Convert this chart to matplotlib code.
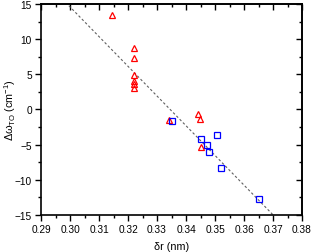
import matplotlib
matplotlib.use("Agg")
import matplotlib.pyplot as plt
import numpy as np
from matplotlib.ticker import MultipleLocator

plt.rcParams['font.family'] = ['Liberation Sans', 'DejaVu Sans']
plt.rcParams['mathtext.fontset'] = 'custom'
plt.rcParams['mathtext.rm'] = 'Liberation Sans'
plt.rcParams['mathtext.it'] = 'Liberation Sans'

# red triangles
tri_x = [0.3145, 0.3222, 0.3222, 0.3222, 0.3222, 0.3222, 0.3222, 0.3342, 0.3440, 0.3449, 0.3451]
tri_y = [13.4, 8.7, 7.35, 4.9, 4.1, 3.6, 3.1, -1.57, -0.62, -1.43, -5.38]
# blue squares
sq_x = [0.3352, 0.3451, 0.3474, 0.3480, 0.3508, 0.3522, 0.3651]
sq_y = [-1.6, -4.14, -5.0, -6.05, -3.57, -8.33, -12.8]
# dashed fit line y = a + b*x
fit_a = 141.5
fit_b = -423.0
fit_x = [0.29, 0.38]
x_ticks = [0.29, 0.30, 0.31, 0.32, 0.33, 0.34, 0.35, 0.36, 0.37, 0.38]
x_ticklabels = ['0.29', '0.30', '0.31', '0.32', '0.33', '0.34', '0.35', '0.36', '0.37', '0.38']

fig = plt.figure(figsize=(3.13, 2.53), dpi=100)
ax = fig.add_axes([0.131, 0.147, 0.834, 0.833])

fx = np.array(fit_x)
ax.plot(fx, fit_a + fit_b * fx, linestyle=(0, (2.2, 2.0)), color='#606060', lw=0.8, zorder=1)
ax.plot(tri_x, tri_y, linestyle='none', marker='^', markersize=4.6, markerfacecolor='none',
        markeredgecolor='#ff0000', markeredgewidth=0.9, zorder=3)
ax.plot(sq_x, sq_y, linestyle='none', marker='s', markersize=3.9, markerfacecolor='none',
        markeredgecolor='#0000ff', markeredgewidth=0.9, zorder=3)

ax.set_xlim(0.29, 0.38)
ax.set_ylim(-15, 15)
ax.set_xticks(x_ticks)
ax.set_xticklabels(x_ticklabels)
ax.xaxis.set_minor_locator(MultipleLocator(0.005))
ax.yaxis.set_major_locator(MultipleLocator(5))
ax.yaxis.set_minor_locator(MultipleLocator(2.5))

for s in ax.spines.values():
    s.set_linewidth(1.2)

ax.tick_params(which='both', direction='out', top=False, right=False, labelsize=7.3, width=1.0, pad=2.5)
ax.tick_params(which='major', length=4)
ax.tick_params(which='minor', length=2.5)

# mirrored inward ticks on top/right
axt = ax.secondary_xaxis('top')
axt.xaxis.set_major_locator(MultipleLocator(0.01))
axt.xaxis.set_minor_locator(MultipleLocator(0.005))
axt.tick_params(which='both', direction='in', labeltop=False, width=1.0)
axt.tick_params(which='major', length=4)
axt.tick_params(which='minor', length=2.5)
axr = ax.secondary_yaxis('right')
axr.yaxis.set_major_locator(MultipleLocator(5))
axr.yaxis.set_minor_locator(MultipleLocator(2.5))
axr.tick_params(which='both', direction='in', labelright=False, width=1.0)
axr.tick_params(which='major', length=4)
axr.tick_params(which='minor', length=2.5)
for a in (axt, axr):
    for s in a.spines.values():
        s.set_linewidth(1.2)

ax.set_xlabel('δr (nm)', fontsize=7.8, labelpad=5)
ax.set_ylabel(r'Δω$_\mathregular{TO}$ (cm$^\mathregular{-1}$)', fontsize=7.8,
              va='center', ha='center')
ax.yaxis.set_label_coords(-0.118, 0.5)

fig.savefig('out.png', dpi=100)
